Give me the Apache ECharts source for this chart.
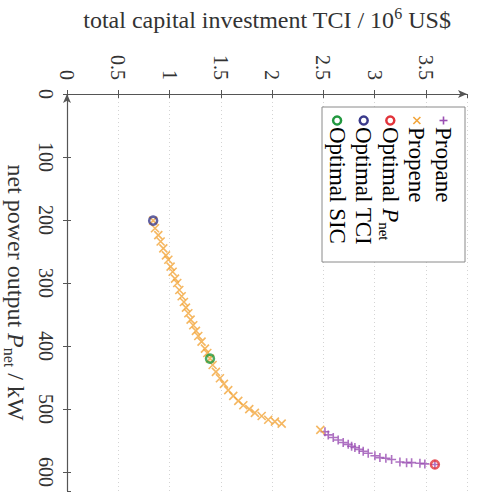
<!DOCTYPE html>
<html>
<head>
<meta charset="utf-8">
<script src="https://cdn.jsdelivr.net/npm/echarts@6/dist/echarts.min.js"></script>
<style>
  html, body { margin: 0; padding: 0; background: #ffffff; }
  #chart { width: 483px; height: 502px; }
</style>
</head>
<body>
<div id="chart"></div>
<script>
// Total capital investment (10^6 US$) against net power output (kW)
const propaneTCI = [2.515, 2.547, 2.596, 2.644, 2.693, 2.742, 2.775, 2.807, 2.849, 2.888, 2.937,
  3.002, 3.051, 3.109, 3.165, 3.246, 3.311, 3.360, 3.441, 3.489, 3.587];
const propanePower = [536, 541, 545, 549, 553, 556, 559, 561, 564, 567, 570,
  574, 577, 578, 580, 584, 585, 585, 586, 587, 588];

const propeneTCI = [0.840, 0.858, 0.890, 0.913, 0.939, 0.965, 0.988, 1.010, 1.030, 1.053, 1.075,
  1.095, 1.118, 1.140, 1.160, 1.183, 1.205, 1.231, 1.257, 1.280, 1.312, 1.345, 1.368, 1.394,
  1.420, 1.452, 1.491, 1.530, 1.572, 1.621, 1.670, 1.719, 1.777, 1.832, 1.898, 1.962, 2.027,
  2.093, 2.470];
const propenePower = [201, 213, 224, 234, 245, 256, 263, 274, 282, 293, 300,
  311, 321, 330, 339, 348, 358, 367, 376, 384, 393, 404, 411, 420,
  430, 441, 451, 460, 470, 479, 487, 494, 500, 506, 511, 517, 520,
  523, 533];

// Optimum points: [TCI, net power]
const optimalPnet = [3.587, 588];
const optimalTCI = [0.840, 201];
const optimalSIC = [1.394, 420];

const tciTicks = { min: 0, max: 3.9, step: 0.5 };
const powerTicks = { min: 0, max: 630, step: 100 };

const FONT = 'Liberation Serif';
const TEXT = '#333333';
const AXIS = '#555555';
const C_PROPANE = '#9a4fb3';
const C_PROPENE = '#f2a53a';
const C_PNET = '#e2343b';
const C_TCI = '#3b3b8c';
const C_SIC = '#22983f';

const PLUS = 'path://M5,0L5,10M0,5L10,5';
const CROSS = 'path://M0,0L10,10M10,0L0,10';

function pairs(xs, ys) { return xs.map((x, i) => [x, ys[i]]); }

function richText(size) {
  const sub = Math.round(size * 0.66);
  const lh = Math.round(size * 1.2);
  return {
    t: { fontFamily: FONT, fontSize: size, color: TEXT, lineHeight: lh },
    i: { fontFamily: FONT, fontSize: size, color: TEXT, fontStyle: 'italic', lineHeight: lh },
    sub: { fontFamily: FONT, fontSize: sub, color: TEXT, lineHeight: sub, verticalAlign: 'bottom' },
    sup: { fontFamily: FONT, fontSize: sub, color: TEXT, lineHeight: sub, verticalAlign: 'top' }
  };
}

const chart = echarts.init(document.getElementById('chart'), null, { renderer: 'svg' });

// Legend: rotated entries inside a framed box at the upper right
const legendItems = [
  { text: '{t|Propane}', symbol: 'plus', color: C_PROPANE },
  { text: '{t|Propene}', symbol: 'cross', color: C_PROPENE },
  { text: '{t|Optimal }{i|P}{sub|net}', symbol: 'circle', color: C_PNET },
  { text: '{t|Optimal TCI}', symbol: 'circle', color: C_TCI },
  { text: '{t|Optimal SIC}', symbol: 'circle', color: C_SIC }
];
const legendBox = { x: 322, y: 107, w: 143, h: 155 };
const legendGraphics = [{
  type: 'rect',
  shape: { x: legendBox.x, y: legendBox.y, width: legendBox.w, height: legendBox.h },
  style: { fill: '#ffffff', stroke: '#8a8a8a', lineWidth: 1 },
  z: 50
}];
legendItems.forEach((it, k) => {
  const cx = 443.5 - k * 26.6;
  const my = 120.5;
  if (it.symbol === 'circle') {
    legendGraphics.push({ type: 'circle', shape: { cx: cx, cy: my, r: 4 },
      style: { fill: 'none', stroke: it.color, lineWidth: 2.5 }, z: 51 });
  } else if (it.symbol === 'plus') {
    legendGraphics.push({ type: 'polyline', shape: { points: [[cx - 4, my], [cx + 4, my]] },
      style: { stroke: it.color, lineWidth: 1.6 }, z: 51 });
    legendGraphics.push({ type: 'polyline', shape: { points: [[cx, my - 4], [cx, my + 4]] },
      style: { stroke: it.color, lineWidth: 1.6 }, z: 51 });
  } else {
    legendGraphics.push({ type: 'polyline', shape: { points: [[cx - 3.5, my - 3.5], [cx + 3.5, my + 3.5]] },
      style: { stroke: it.color, lineWidth: 1.6 }, z: 51 });
    legendGraphics.push({ type: 'polyline', shape: { points: [[cx + 3.5, my - 3.5], [cx - 3.5, my + 3.5]] },
      style: { stroke: it.color, lineWidth: 1.6 }, z: 51 });
  }
  legendGraphics.push({
    type: 'text', x: cx, y: 127, rotation: -Math.PI / 2, z: 51,
    style: { text: it.text, rich: richText(23), align: 'left', verticalAlign: 'middle' }
  });
});

const tickAxisBase = {
  type: 'value',
  axisLine: { show: false },
  axisLabel: { show: false },
  splitLine: { show: false },
  axisTick: { show: true, inside: true, length: 4, lineStyle: { color: AXIS, width: 1 } }
};

chart.setOption({
  animation: false,
  backgroundColor: '#ffffff',
  grid: { left: 67, top: 94, right: 16, bottom: 11, containLabel: false, outerBoundsMode: 'none' },
  xAxis: [{
    type: 'value',
    position: 'top',
    min: tciTicks.min, max: tciTicks.max, interval: tciTicks.step,
    name: '{t|total capital investment TCI / 10}{sup|6}{t| US$}',
    nameLocation: 'middle',
    nameGap: 60,
    nameTextStyle: { rich: richText(24) },
    axisLine: { show: true, lineStyle: { color: AXIS, width: 1.2 }, symbol: ['none', 'arrow'], symbolSize: [6, 9] },
    axisTick: { show: true, length: 4, lineStyle: { color: AXIS, width: 1 } },
    axisLabel: { rotate: -90, margin: 14, fontFamily: FONT, fontSize: 20, color: TEXT, showMaxLabel: false },
    splitLine: { show: true, lineStyle: { color: '#d4d4d4', type: [1, 3], width: 1 } }
  }, Object.assign({}, tickAxisBase, {
    position: 'top', min: tciTicks.min, max: tciTicks.max, interval: tciTicks.step
  })],
  yAxis: [{
    type: 'value',
    position: 'left',
    inverse: true,
    min: powerTicks.min, max: powerTicks.max, interval: powerTicks.step,
    name: '{t|net power output }{i|P}{sub|net}{t| / kW}',
    nameLocation: 'middle',
    nameGap: 37,
    nameRotate: -90,
    nameTextStyle: { rich: richText(24) },
    axisLine: { show: true, lineStyle: { color: AXIS, width: 1.2 }, symbol: ['none', 'arrow'], symbolSize: [6, 9] },
    axisTick: { show: true, length: 4, lineStyle: { color: AXIS, width: 1 } },
    axisLabel: { rotate: -90, margin: 11, fontFamily: FONT, fontSize: 20, color: TEXT, showMaxLabel: false },
    splitLine: { show: false }
  }, Object.assign({}, tickAxisBase, {
    position: 'left', inverse: true, min: powerTicks.min, max: powerTicks.max, interval: powerTicks.step
  })],
  graphic: legendGraphics,
  series: [
    {
      name: 'Propane', type: 'scatter', xAxisIndex: 0, yAxisIndex: 0,
      data: pairs(propaneTCI, propanePower),
      symbol: PLUS, symbolSize: 9,
      itemStyle: { color: 'none', borderColor: C_PROPANE, borderWidth: 1.6 },
      z: 3
    },
    {
      name: 'Propene', type: 'scatter', xAxisIndex: 0, yAxisIndex: 0,
      data: pairs(propeneTCI, propenePower),
      symbol: CROSS, symbolSize: 8,
      itemStyle: { color: 'none', borderColor: C_PROPENE, borderWidth: 1.6 },
      z: 3
    },
    {
      name: 'Optimal Pnet', type: 'scatter', xAxisIndex: 0, yAxisIndex: 0,
      data: [optimalPnet], symbol: 'circle', symbolSize: 8,
      itemStyle: { color: 'transparent', borderColor: C_PNET, borderWidth: 2.5 }, z: 4
    },
    {
      name: 'Optimal TCI', type: 'scatter', xAxisIndex: 0, yAxisIndex: 0,
      data: [optimalTCI], symbol: 'circle', symbolSize: 8,
      itemStyle: { color: 'transparent', borderColor: C_TCI, borderWidth: 2.5 }, z: 4
    },
    {
      name: 'Optimal SIC', type: 'scatter', xAxisIndex: 0, yAxisIndex: 0,
      data: [optimalSIC], symbol: 'circle', symbolSize: 8,
      itemStyle: { color: 'transparent', borderColor: C_SIC, borderWidth: 2.5 }, z: 4
    }
  ]
});
</script>
</body>
</html>
